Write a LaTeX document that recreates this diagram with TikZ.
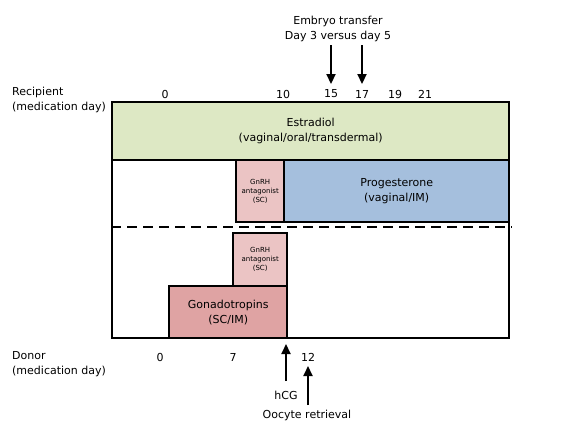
\documentclass[tikz,border=0pt]{standalone}
\usepackage{fontspec}
\setmainfont{DejaVu Sans}
\usetikzlibrary{arrows.meta}
\definecolor{estrgreen}{HTML}{DDE8C4}
\definecolor{progblue}{HTML}{A5BFDD}
\definecolor{antpink}{HTML}{EBC4C4}
\definecolor{gonared}{HTML}{DFA3A3}
\tikzset{
  phase/.style={draw, line width=2.4pt, anchor=north west, inner sep=0pt, align=center, font=\fontsize{11}{15}\selectfont},
  smallphase/.style={phase, font=\fontsize{7}{9}\selectfont},
  lbl/.style={font=\fontsize{11}{14.5}\selectfont, inner sep=0pt},
  rowlbl/.style={lbl, anchor=west, align=left},
  marker/.style={line width=2.2pt, -{Triangle[length=10pt,width=9pt]}}
}
\begin{document}
\begin{tikzpicture}[x=1pt, y=-1pt]
  \useasboundingbox (0,0) rectangle (568,440);
  % outer frame
  \node[phase, minimum width=397pt, minimum height=236pt] (frame) at (111,101) {};
  % recipient
  \node[phase, fill=estrgreen, minimum width=397pt, minimum height=58pt] (estr) at (111,101) {Estradiol\\(vaginal/oral/transdermal)};
  \node[smallphase, fill=antpink, minimum width=48pt, minimum height=62pt] (antR) at (235,159) {GnRH\\antagonist\\(SC)};
  \node[phase, fill=progblue, minimum width=225pt, minimum height=62pt] (prog) at (283,159) {Progesterone\\(vaginal/IM)};
  \coordinate (dashL) at (111,227);
  \coordinate (dashR) at (512,227);
  \draw[line width=2.2pt, dash pattern=on 10pt off 6pt] (dashL) -- (dashR);
  % donor
  \node[smallphase, fill=antpink, minimum width=54pt, minimum height=53pt] (antD) at (232,232) {GnRH\\antagonist\\(SC)};
  \node[phase, fill=gonared, minimum width=118pt, minimum height=52pt] (gona) at (168,285) {Gonadotropins\\(SC/IM)};
  % day labels
  \node[rowlbl] (recip) at (12,100) {Recipient\\(medication day)};
  \node[lbl] (r0) at (165,94) {0};
  \node[lbl] (r10) at (283,94) {10};
  \node[lbl] (r15) at (331,94) {15};
  \node[lbl] (r17) at (362,94) {17};
  \node[lbl] (r19) at (395,94) {19};
  \node[lbl] (r21) at (425,94) {21};
  \node[rowlbl] (donor) at (12,364) {Donor\\(medication day)};
  \node[lbl] (d0) at (160,357) {0};
  \node[lbl] (d7) at (233,357) {7};
  \node[lbl] (d12) at (308,357) {12};
  % events
  \node[lbl, align=center] (embryo) at (338,29) {Embryo transfer\\Day 3 versus day 5};
  \coordinate (e15) at (331,45);
  \coordinate (e17) at (362,45);
  \draw[marker] (e15) -- (331,84);
  \draw[marker] (e17) -- (362,84);
  \node[lbl] (hcg) at (286,395) {hCG};
  \node[lbl] (oocyte) at (307,415) {Oocyte retrieval};
  \coordinate (hcgtip) at (286,344);
  \coordinate (hcgfoot) at (286,381);
  \coordinate (oocytetip) at (308,366);
  \coordinate (oocytefoot) at (308,405);
  \draw[marker] (hcgfoot) -- (hcgtip);
  \draw[marker] (oocytefoot) -- (oocytetip);
\end{tikzpicture}
\end{document}
